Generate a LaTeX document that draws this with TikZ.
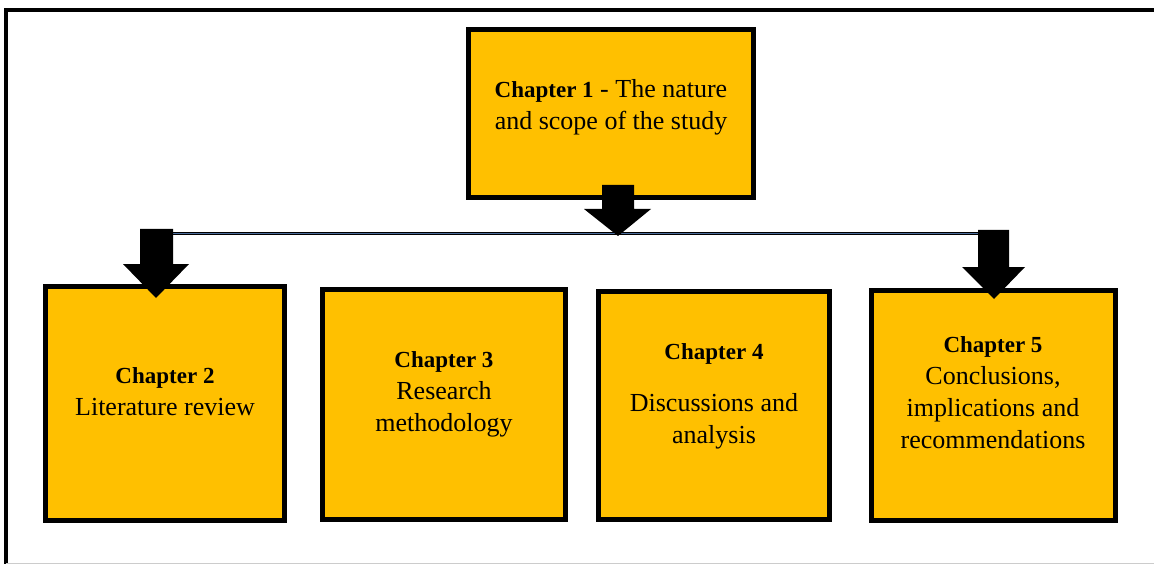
\documentclass[tikz,border=0pt]{standalone}
\usepackage{fontspec}
\setmainfont{Liberation Serif}
\definecolor{chapgold}{HTML}{FFC000}
\definecolor{linkblue}{HTML}{4A6C9B}
\newcommand\chapnofont{\bfseries\fontsize{23}{32}\selectfont}
\begin{document}
\begin{tikzpicture}[x=1pt,y=-1pt,
  chapbox/.style={rectangle, draw=black, line width=5pt, fill=chapgold, inner sep=0pt},
  % the base anchor of these nodes sits on the baseline of the last line
  chaptext/.style={align=center, anchor=base, inner sep=0pt,
    font=\fontsize{26}{32}\selectfont},
  link/.style={draw=black, line width=1pt, double=linkblue, double distance=0.6pt},
  blockarrow/.style={fill=black}
]
\useasboundingbox (0,0) rectangle (1154,564);

% outer frame
\draw[line width=4pt] (6,570) -- (6,10) -- (1160,10);
\draw[black!20, line width=1pt] (6,563.5) -- (1160,563.5);

% horizontal link between the branches
\coordinate (hl) at (173,233.5);
\coordinate (hr) at (978,233.5);
\draw[link] (hl) -- (hr);

% chapter boxes
\node[chapbox, minimum width=285pt, minimum height=168pt] (c1) at (611,113.5) {};
\node[chapbox, minimum width=239pt, minimum height=234pt] (c2) at (165,403.5) {};
\node[chapbox, minimum width=243pt, minimum height=230pt] (c3) at (444,404.5) {};
\node[chapbox, minimum width=231pt, minimum height=228pt] (c4) at (714,405.5) {};
\node[chapbox, minimum width=244pt, minimum height=230pt] (c5) at (993.5,405.5) {};

% chapter texts
\node[chaptext] (t1) at (611,130) {{\chapnofont Chapter 1} - The nature\\and scope of the study};
\node[chaptext] (t2) at (165,415) {{\chapnofont Chapter 2}\\Literature review};
\node[chaptext] (t3) at (444,431) {{\chapnofont Chapter 3}\\Research\\methodology};
\node[chaptext] (t4) at (714,443) {{\chapnofont Chapter 4}\\[20pt]Discussions and\\analysis};
\node[chaptext] (t5) at (993,448) {{\chapnofont Chapter 5}\\Conclusions,\\implications and\\recommendations};

% block arrows
\fill[blockarrow] (602,185) -- (634,185) -- (634,209) -- (651,209) -- (618,236)
  -- (584,209) -- (602,209) -- cycle;
\fill[blockarrow] (140,229) -- (173,229) -- (173,264) -- (189,264) -- (156,298)
  -- (123,264) -- (140,264) -- cycle;
\fill[blockarrow] (978,230) -- (1009,230) -- (1009,267) -- (1025,267) -- (994,299)
  -- (962,267) -- (978,267) -- cycle;
\end{tikzpicture}
\end{document}
